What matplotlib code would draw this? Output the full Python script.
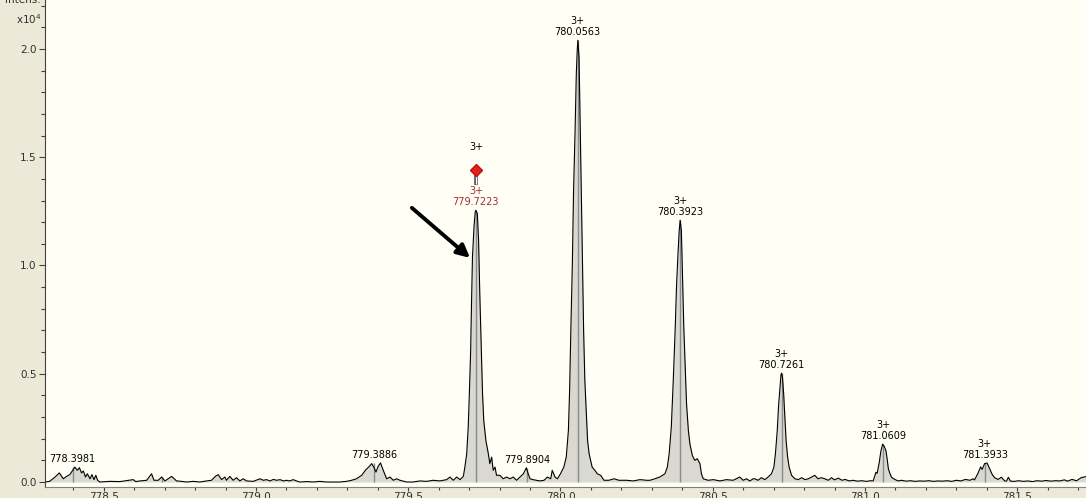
import matplotlib
matplotlib.use("Agg")
import matplotlib.pyplot as plt
from matplotlib.ticker import MultipleLocator, FormatStrFormatter
import numpy as np

mz1 = [778.307, 778.322, 778.340, 778.354, 778.367, 778.378, 778.389, 778.398, 778.405, 778.413,
       778.420, 778.427, 778.433, 778.440, 778.446, 778.455, 778.461, 778.468, 778.474, 778.480,
       778.487, 778.520, 778.553, 778.597, 778.605, 778.619, 778.641, 778.657, 778.665, 778.679,
       778.690, 778.701, 778.723, 778.739, 778.755, 778.772, 778.794, 778.816, 778.838, 778.854,
       778.868, 778.876, 778.887, 778.898, 778.903, 778.914, 778.925, 778.936, 778.947, 778.958,
       778.969, 778.991, 779.013, 779.024, 779.035, 779.046, 779.057, 779.068, 779.079, 779.090,
       779.100, 779.111, 779.122, 779.133, 779.144]
int1 = [0.000, 0.003, 0.023, 0.042, 0.015, 0.026, 0.035, 0.054, 0.069, 0.054,
        0.066, 0.042, 0.051, 0.023, 0.038, 0.015, 0.034, 0.011, 0.031, 0.008,
        0.000, 0.003, 0.002, 0.011, 0.002, 0.005, 0.008, 0.038, 0.008, 0.008,
        0.023, 0.005, 0.026, 0.005, 0.003, 0.000, 0.003, 0.000, 0.005, 0.008,
        0.028, 0.034, 0.011, 0.023, 0.008, 0.026, 0.008, 0.020, 0.005, 0.015,
        0.005, 0.003, 0.015, 0.008, 0.011, 0.005, 0.012, 0.008, 0.011, 0.005,
        0.008, 0.005, 0.011, 0.005, 0.000]

mz2 = [779.166, 779.188, 779.210, 779.232, 779.254, 779.276, 779.297, 779.314, 779.330, 779.347,
       779.361, 779.372, 779.380, 779.387, 779.394, 779.401, 779.409, 779.418, 779.429, 779.440,
       779.451, 779.462, 779.473, 779.495, 779.516, 779.538, 779.560, 779.582, 779.604, 779.626,
       779.637, 779.648, 779.659, 779.670, 779.681]
int2 = [0.002, 0.000, 0.003, 0.000, 0.000, 0.000, 0.003, 0.008, 0.015, 0.031,
        0.057, 0.072, 0.085, 0.069, 0.046, 0.072, 0.088, 0.054, 0.015, 0.023,
        0.008, 0.015, 0.008, 0.000, 0.000, 0.005, 0.003, 0.008, 0.005, 0.011,
        0.023, 0.008, 0.023, 0.011, 0.026]

mz3 = [779.686, 779.692, 779.697, 779.700, 779.705, 779.708, 779.711, 779.716, 779.720, 779.722,
       779.727, 779.731, 779.735, 779.740, 779.744, 779.748, 779.755, 779.763, 779.768, 779.774,
       779.779, 779.785, 779.790, 779.801, 779.812, 779.823, 779.834, 779.845, 779.856, 779.867,
       779.878, 779.888, 779.894, 779.900, 779.910, 779.921, 779.932]
int3 = [0.069, 0.130, 0.254, 0.377, 0.608, 0.839, 1.039, 1.178, 1.247, 1.255,
        1.239, 1.116, 0.870, 0.608, 0.408, 0.285, 0.192, 0.131, 0.085, 0.115,
        0.054, 0.069, 0.031, 0.031, 0.015, 0.023, 0.015, 0.023, 0.008, 0.023,
        0.038, 0.066, 0.038, 0.015, 0.011, 0.008, 0.005]

mz4 = [779.946, 779.957, 779.968, 779.973, 779.982, 779.990, 780.000, 780.011, 780.019, 780.026,
       780.030, 780.034, 780.039, 780.043, 780.048, 780.052, 780.055, 780.057, 780.061, 780.065,
       780.068, 780.072, 780.076, 780.080, 780.085, 780.089, 780.094, 780.099, 780.104, 780.113,
       780.121, 780.132, 780.143, 780.159, 780.176, 780.192, 780.217, 780.239, 780.261, 780.283]
int4 = [0.008, 0.023, 0.015, 0.054, 0.023, 0.015, 0.038, 0.069, 0.115, 0.238,
        0.423, 0.700, 1.008, 1.347, 1.624, 1.886, 1.994, 2.040, 1.963, 1.624,
        1.347, 1.008, 0.700, 0.470, 0.316, 0.192, 0.131, 0.100, 0.069, 0.054,
        0.038, 0.031, 0.008, 0.008, 0.015, 0.008, 0.008, 0.005, 0.011, 0.008]

mz5 = [780.294, 780.310, 780.326, 780.343, 780.351, 780.357, 780.364, 780.370, 780.377, 780.381,
       780.386, 780.390, 780.393, 780.397, 780.401, 780.405, 780.410, 780.414, 780.420, 780.425,
       780.433, 780.441, 780.449, 780.458, 780.463, 780.469, 780.485, 780.502, 780.524, 780.545,
       780.567, 780.589, 780.600, 780.611, 780.622, 780.633]
int5 = [0.008, 0.015, 0.023, 0.038, 0.069, 0.131, 0.254, 0.454, 0.716, 0.901,
        1.055, 1.163, 1.209, 1.163, 0.947, 0.716, 0.516, 0.362, 0.239, 0.177,
        0.123, 0.100, 0.108, 0.085, 0.038, 0.015, 0.008, 0.011, 0.005, 0.011,
        0.008, 0.023, 0.008, 0.015, 0.005, 0.015]

mz6 = [780.638, 780.649, 780.660, 780.671, 780.682, 780.693, 780.701, 780.706, 780.712, 780.716,
       780.721, 780.724, 780.726, 780.729, 780.733, 780.737, 780.741, 780.746, 780.751, 780.759,
       780.770, 780.781, 780.792, 780.803, 780.814, 780.825, 780.835, 780.846, 780.857, 780.868,
       780.880, 780.890, 780.900, 780.912, 780.925, 780.935, 780.948, 780.960, 780.975, 780.990,
       781.005, 781.018]
int6 = [0.015, 0.008, 0.020, 0.011, 0.023, 0.038, 0.069, 0.131, 0.239, 0.346,
        0.439, 0.493, 0.503, 0.485, 0.408, 0.300, 0.192, 0.115, 0.069, 0.031,
        0.015, 0.011, 0.020, 0.011, 0.015, 0.023, 0.031, 0.015, 0.020, 0.015,
        0.008, 0.020, 0.010, 0.018, 0.008, 0.012, 0.005, 0.008, 0.004, 0.006,
        0.003, 0.006]

mz7 = [781.027, 781.036, 781.040, 781.047, 781.052, 781.058, 781.063, 781.069, 781.073, 781.077,
       781.082, 781.087, 781.098, 781.109, 781.120, 781.135, 781.150, 781.165, 781.180, 781.195,
       781.210, 781.225, 781.240, 781.255, 781.270, 781.285, 781.300, 781.315, 781.330, 781.345,
       781.355]
int7 = [0.005, 0.045, 0.040, 0.090, 0.140, 0.175, 0.165, 0.145, 0.105, 0.060,
        0.040, 0.022, 0.012, 0.005, 0.008, 0.004, 0.006, 0.003, 0.005, 0.004,
        0.006, 0.003, 0.005, 0.004, 0.006, 0.003, 0.008, 0.005, 0.012, 0.008,
        0.015]

mz8 = [781.360, 781.371, 781.380, 781.385, 781.393, 781.401, 781.410, 781.418, 781.426, 781.437,
       781.448, 781.459, 781.465, 781.471, 781.478, 781.490, 781.505, 781.520, 781.535, 781.550,
       781.565, 781.580, 781.595, 781.610, 781.625, 781.640, 781.655, 781.665, 781.680, 781.695,
       781.710, 781.726]
int8 = [0.010, 0.040, 0.070, 0.058, 0.085, 0.088, 0.060, 0.035, 0.020, 0.012,
        0.022, 0.005, 0.004, 0.022, 0.004, 0.003, 0.006, 0.003, 0.005, 0.002,
        0.006, 0.004, 0.007, 0.004, 0.006, 0.005, 0.010, 0.004, 0.012, 0.006,
        0.020, 0.025]

# centroided peaks with labels
peak_mz = [778.3981, 779.3886, 779.7223, 779.8904, 780.0563, 780.3923, 780.7261, 781.0609, 781.3933]
peak_int = [0.069, 0.088, 1.255, 0.066, 2.040, 1.209, 0.503, 0.175, 0.088]
peak_charge = ["", "", "3+", "", "3+", "3+", "3+", "3+", "3+"]
extra_mz = [778.690]
extra_int = [0.023]

# precursor marker
prec_mz = 779.7223
prec_charge = "3+"
prec_marker = 1.441

mz = np.concatenate([mz1, mz2, mz3, mz4, mz5, mz6, mz7, mz8])
inten = np.concatenate([int1, int2, int3, int4, int5, int6, int7, int8])

fig = plt.figure(figsize=(10.86, 4.98), dpi=100, facecolor="#ece9d8")
ax = fig.add_axes([45 / 1086, 11 / 498, 1041 / 1086, 487 / 498])
ax.set_facecolor("#fffff5")

ax.fill_between(mz, inten, 0, color="#d9d9d2", lw=0)
ax.vlines(peak_mz + extra_mz, 0, peak_int + extra_int, color="#8a8a8a", lw=1)
ax.plot(mz, inten, color="black", lw=0.8)

# peak labels
for m, h, z in zip(peak_mz, peak_int, peak_charge):
    if m == prec_mz:
        continue
    txt = f"{z}\n{m:.4f}" if z else f"{m:.4f}"
    ax.annotate(txt, xy=(m, h), xytext=(0, 2), textcoords="offset points",
                ha="center", va="bottom", fontsize=7, linespacing=1.15, color="black")

# precursor: red label, stick and diamond
ph = peak_int[peak_mz.index(prec_mz)]
ax.annotate(f"{prec_charge}\n{prec_mz:.4f}", xy=(prec_mz, ph), xytext=(0, 2),
            textcoords="offset points", ha="center", va="bottom", fontsize=7,
            linespacing=1.15, color="#a32b2b")
ax.vlines(prec_mz, prec_marker - 0.07, prec_marker - 0.02, color="#505050", lw=2.6)
ax.vlines(prec_mz, prec_marker - 0.065, prec_marker - 0.025, color="white", lw=0.9)
ax.plot(prec_mz, prec_marker, marker="D", ms=6, color="#e3201b", mec="#c01010")
ax.annotate(prec_charge, xy=(prec_mz, prec_marker), xytext=(0, 13),
            textcoords="offset points", ha="center", va="bottom", fontsize=7)

# arrow pointing at the precursor peak
ax.annotate("", xy=(779.703, 1.035), xytext=(779.512, 1.266),
            arrowprops=dict(arrowstyle="-|>", color="black", lw=2.8,
                            mutation_scale=19, shrinkA=0, shrinkB=0))

ax.set_xlim(778.307, 781.726)
ax.set_ylim(-0.023, 2.226)
ax.xaxis.set_major_locator(MultipleLocator(0.5))
ax.xaxis.set_minor_locator(MultipleLocator(0.1))
ax.yaxis.set_major_locator(MultipleLocator(0.5))
ax.yaxis.set_minor_locator(MultipleLocator(0.1))
ax.xaxis.set_major_formatter(FormatStrFormatter("%.1f"))
ax.yaxis.set_major_formatter(FormatStrFormatter("%.1f"))

for s in ["top", "right"]:
    ax.spines[s].set_visible(False)
ax.spines["left"].set_color("#404040")
ax.spines["bottom"].set_color("#808080")
ax.tick_params(axis="both", which="both", direction="out", color="#404040",
               labelsize=7.5, labelcolor="#303030", width=0.8)
ax.tick_params(axis="x", which="major", length=3, pad=0.5)
ax.tick_params(axis="x", which="minor", length=2.5)
ax.tick_params(axis="y", which="major", length=4, pad=2)
ax.tick_params(axis="y", which="minor", length=3)

fig.text(23 / 1086, 1 - 3 / 498, "Intens.", ha="center", va="baseline", fontsize=7.5, color="#303030")
fig.text(29 / 1086, 1 - 19 / 498, r"x10$^4$", ha="center", va="center", fontsize=7.5, color="#303030")

fig.savefig("out.png", dpi=100, facecolor=fig.get_facecolor())
